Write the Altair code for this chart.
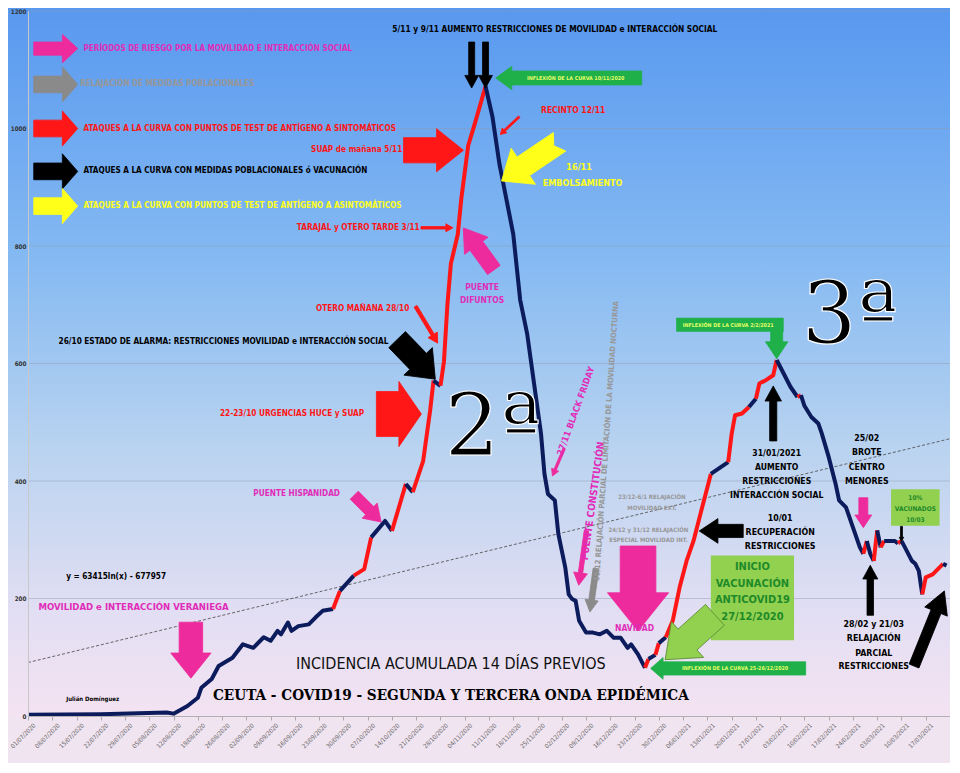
import altair as alt
import pandas as pd

# ---------------- data ----------------
dates = [
    "2020-07-01", "2020-07-22", "2020-08-10", "2020-08-12", "2020-08-16", "2020-08-19", "2020-08-20",
    "2020-08-23", "2020-08-25", "2020-08-29", "2020-09-01", "2020-09-04", "2020-09-07", "2020-09-09",
    "2020-09-11", "2020-09-12", "2020-09-14", "2020-09-15", "2020-09-17", "2020-09-20", "2020-09-22",
    "2020-09-24", "2020-09-27", "2020-09-29", "2020-10-03", "2020-10-06", "2020-10-08", "2020-10-12",
    "2020-10-14", "2020-10-18", "2020-10-20", "2020-10-23", "2020-10-25", "2020-10-26", "2020-10-28",
    "2020-10-29", "2020-10-30", "2020-10-31", "2020-11-02", "2020-11-03", "2020-11-05", "2020-11-07",
    "2020-11-10", "2020-11-12", "2020-11-14", "2020-11-15", "2020-11-18", "2020-11-20", "2020-11-22",
    "2020-11-24", "2020-11-26", "2020-11-27", "2020-11-28", "2020-11-30", "2020-12-01", "2020-12-03",
    "2020-12-04", "2020-12-05", "2020-12-06", "2020-12-07", "2020-12-09", "2020-12-11", "2020-12-13",
    "2020-12-15", "2020-12-17", "2020-12-19", "2020-12-21", "2020-12-22", "2020-12-24", "2020-12-26",
    "2020-12-27", "2020-12-29", "2020-12-30", "2021-01-01", "2021-01-03", "2021-01-05", "2021-01-07",
    "2021-01-09", "2021-01-11", "2021-01-13", "2021-01-14", "2021-01-19", "2021-01-20", "2021-01-21",
    "2021-01-23", "2021-01-25", "2021-01-27", "2021-01-28", "2021-01-30", "2021-02-01", "2021-02-02",
    "2021-02-04", "2021-02-06", "2021-02-08", "2021-02-09", "2021-02-10", "2021-02-12", "2021-02-14",
    "2021-02-15", "2021-02-17", "2021-02-19", "2021-02-20", "2021-02-22", "2021-02-24", "2021-02-26",
    "2021-02-27", "2021-02-28", "2021-03-01", "2021-03-02", "2021-03-03", "2021-03-04", "2021-03-05",
    "2021-03-06", "2021-03-08", "2021-03-09", "2021-03-10", "2021-03-11", "2021-03-13", "2021-03-14",
    "2021-03-15", "2021-03-16", "2021-03-17", "2021-03-19", "2021-03-21", "2021-03-22", "2021-03-23",
]
values = [
    2, 3, 6, 4, 17, 31, 48,
    63, 85, 99, 122, 116, 134, 128,
    145, 139, 159, 145, 153, 156, 168,
    179, 182, 213, 239, 250, 304, 332,
    315, 395, 381, 434, 519, 571, 562,
    603, 700, 770, 820, 880, 971, 1010,
    1072, 1020, 940, 910, 820, 708, 651,
    566, 481, 412, 378, 367, 310, 253,
    207, 199, 196, 162, 142, 142, 139,
    145, 133, 133, 116, 122, 105, 82,
    97, 104, 124, 134, 162, 219, 264,
    298, 344, 389, 412, 432, 480, 512,
    515, 526, 540, 566, 572, 580, 606,
    583, 560, 543, 546, 528, 509, 498,
    481, 441, 395, 367, 355, 321, 287,
    276, 298, 276, 264, 316, 287, 298,
    298, 298, 294, 298, 287, 264, 259,
    247, 207, 236, 241, 253, 259, 256,
]
# colour of the stretch that ends at each point (N = navy, R = red)
seg_codes = (
    ["N"] * 23 + ["R"] + ["N"] + ["R"] * 2 + ["N"] * 2 + ["R"] + ["N"] + ["R"] * 3 + ["N"]
    + ["R"] * 8 + ["N"] * 27 + ["R"] + ["N"] + ["R"] + ["N"] + ["R"] * 7 + ["N"] + ["R"] * 4
    + ["N"] + ["R"] * 4 + ["N"] * 3 + ["R"] + ["N"] * 11 + ["R"] + ["N"] * 2 + ["R"] + ["N"]
    + ["R"] + ["N"] * 3 + ["R"] + ["N"] * 5 + ["R"] * 4 + ["N"]
)

trend_dates = ["2020-07-01", "2021-03-24"]
trend_values = [91, 472]

grid_values = [200, 400, 600, 800, 1000, 1200]
y_ticks = [0, 200, 400, 600, 800, 1000, 1200]

tick_labels = [
    "01/07/2020", "08/07/2020", "15/07/2020", "22/07/2020", "29/07/2020", "05/08/2020", "12/08/2020",
    "19/08/2020", "26/08/2020", "02/09/2020", "09/09/2020", "16/09/2020", "23/09/2020", "30/09/2020",
    "07/10/2020", "14/10/2020", "21/10/2020", "28/10/2020", "04/11/2020", "11/11/2020", "18/11/2020",
    "25/11/2020", "02/12/2020", "09/12/2020", "16/12/2020", "23/12/2020", "30/12/2020", "06/01/2021",
    "13/01/2021", "20/01/2021", "27/01/2021", "03/02/2021", "10/02/2021", "17/02/2021", "24/02/2021",
    "03/03/2021", "10/03/2021", "17/03/2021",
]

NAVY = "#0b1b5c"
RED = "#ff1616"
MAG = "#ee2b9c"
MAGT = "#e02cb8"
GRAYT = "#979797"
GRAYA = "#8a8a8a"
YEL = "#ffff1a"
BLACK = "#000000"
GREEN = "#1fb04a"
LGREEN = "#92d050"
GREENT = "#1e8a28"
INFLT = "#e6ff66"

# annotations: (date, value, text, colour, font size)
left_texts = [
    ("2020-07-17", 1136, "PERÍODOS DE RIESGO POR LA MOVILIDAD E INTERACCIÓN SOCIAL", MAGT, 8.1),
    ("2020-07-16", 1075, "RELAJACIÓN DE MEDIDAS POBLACIONALES", GRAYT, 8.1),
    ("2020-07-17", 1000, "ATAQUES A LA CURVA CON PUNTOS DE  TEST DE ANTÍGENO A SINTOMÁTICOS", RED, 8.1),
    ("2020-07-17", 927, "ATAQUES A LA CURVA CON MEDIDAS POBLACIONALES ó VACUNACIÓN", BLACK, 8.1),
    ("2020-07-17", 868, "ATAQUES A LA CURVA CON PUNTOS DE  TEST DE ANTÍGENO A ASINTOMÁTICOS", YEL, 8.1),
    ("2020-11-26", 1031, "RECINTO 12/11", RED, 8.5),
    ("2020-07-12", 237, "y = 63415ln(x) - 677957", BLACK, 8.2),
    ("2020-07-04", 185, "MOVILIDAD e INTERACCIÓN VERANIEGA", MAGT, 9.5),
    ("2020-07-12", 29, "Julián Domínguez", BLACK, 6),
]
right_texts = [
    ("2020-10-17", 964, "SUAP de mañana 5/11", RED, 8.2),
    ("2020-10-22", 831, "TARAJAL y OTERO TARDE 3/11", RED, 8.2),
    ("2020-10-19", 692, "OTERO MAÑANA 28/10", RED, 8.2),
    ("2020-10-13", 636, "26/10  ESTADO DE ALARMA: RESTRICCIONES MOVILIDAD e INTERACCIÓN SOCIAL", BLACK, 8.2),
    ("2020-10-06", 514, "22-23/10 URGENCIAS HUCE y SUAP", RED, 8.2),
    ("2020-09-29", 378, "PUENTE HISPANIDAD", MAGT, 8.2),
]
center_texts = [
    ("2020-11-30", 1168, "5/11 y 9/11  AUMENTO RESTRICCIONES DE MOVILIDAD e INTERACCIÓN SOCIAL", BLACK, 8.3),
    ("2020-12-06", 1086, "INFLEXIÓN DE LA CURVA 10/11/2020", INFLT, 5.3),
    ("2020-12-07", 934, "16/11", YEL, 9),
    ("2020-12-08", 907, "EMBOLSAMIENTO", YEL, 9),
    ("2020-11-09", 731, "PUENTE", MAGT, 8.5),
    ("2020-11-09", 708, "DIFUNTOS", MAGT, 8.5),
    ("2020-12-28", 373, "23/12-6/1 RELAJACIÓN", GRAYT, 6),
    ("2020-12-28", 354, "MOVILIDAD EXT.", GRAYT, 6),
    ("2020-12-27", 317, "24/12 y 31/12 RELAJACIÓN", GRAYT, 6),
    ("2020-12-27", 300, "ESPECIAL MOVILIDAD INT.", GRAYT, 6),
    ("2020-12-23", 149, "NAVIDAD", MAGT, 8.5),
    ("2021-01-26", 253, "INICIO", GREENT, 11),
    ("2021-01-26", 224, "VACUNACIÓN", GREENT, 11),
    ("2021-01-26", 197, "ANTICOVID19", GREENT, 11),
    ("2021-01-26", 168, "27/12/2020", GREENT, 11),
    ("2021-01-21", 81, "INFLEXIÓN DE LA CURVA 25-26/12/2020", INFLT, 5.3),
    ("2021-01-19", 666, "INFLEXIÓN DE LA CURVA 2/2/2021", INFLT, 5.3),
    ("2021-02-02", 447, "31/01/2021", BLACK, 8.6),
    ("2021-02-02", 424, "AUMENTO", BLACK, 8.6),
    ("2021-02-02", 400, "RESTRICCIONES", BLACK, 8.6),
    ("2021-02-02", 376, "INTERACCIÓN SOCIAL", BLACK, 8.6),
    ("2021-02-03", 337, "10/01", BLACK, 8.8),
    ("2021-02-03", 314, "RECUPERACIÓN", BLACK, 8.8),
    ("2021-02-03", 290, "RESTRICCIONES", BLACK, 8.8),
    ("2021-02-28", 473, "25/02", BLACK, 8.8),
    ("2021-02-28", 449, "BROTE", BLACK, 8.8),
    ("2021-02-28", 424, "CENTRO", BLACK, 8.8),
    ("2021-02-28", 400, "MENORES", BLACK, 8.8),
    ("2021-03-14", 371, "10%", GREENT, 6.5),
    ("2021-03-14", 353, "VACUNADOS", GREENT, 6.5),
    ("2021-03-14", 334, "10/03", GREENT, 6.5),
    ("2021-03-02", 156, "28/02 y 21/03", BLACK, 8.8),
    ("2021-03-02", 132, "RELAJACIÓN", BLACK, 8.8),
    ("2021-03-02", 108, "PARCIAL", BLACK, 8.8),
    ("2021-03-02", 85, "RESTRICCIONES", BLACK, 8.8),
]
rotated_texts = [
    ("2020-12-06", 519, "27/11 BLACK FRIDAY", MAGT, 9, 290),
    ("2020-12-11", 366, "PUENTE CONSTITUCIÓN", MAGT, 10, 278),
    ("2020-12-15", 468, "10/12 RELAJACIÓN PARCIAL DE  LIMITACIÓN DE LA  MOVILIDAD NOCTURNA", GRAYT, 7.6, 274),
]
title_texts = [
    ("2020-10-31", 88, "INCIDENCIA ACUMULADA 14 DÍAS PREVIOS", 16),
    ("2020-10-31", 36, "CEUTA - COVID19 - SEGUNDA  Y TERCERA ONDA EPIDÉMICA", 15.2),
]
wave_texts = [
    ("2020-11-12", 488, "2ª"),
    ("2021-02-23", 680, "3ª"),
]

ARROW_PATHS = {
    "legend": "M -1 -0.38 L 0.3 -0.38 L 0.3 -0.8 L 1 0 L 0.3 0.8 L 0.3 0.38 L -1 0.38 Z",
    "legend_thin": "M -1 -0.3 L 0.3 -0.3 L 0.3 -0.65 L 1 0 L 0.3 0.65 L 0.3 0.3 L -1 0.3 Z",
    "big": "M -1 -0.42 L 0.1 -0.42 L 0.1 -0.72 L 1 0 L 0.1 0.72 L 0.1 0.42 L -1 0.42 Z",
    "mid": "M -1 -0.3 L 0.15 -0.3 L 0.15 -0.56 L 1 0 L 0.15 0.56 L 0.15 0.3 L -1 0.3 Z",
    "thin": "M -1 -0.08 L 0.55 -0.08 L 0.55 -0.25 L 1 0 L 0.55 0.25 L 0.55 0.08 L -1 0.08 Z",
    "stick": "M -1 -0.13 L 0.45 -0.13 L 0.45 -0.3 L 1 0 L 0.45 0.3 L 0.45 0.13 L -1 0.13 Z",
    "fat": "M -1 -1 L 0 -1 L 0 -1.45 L 1 0 L 0 1.45 L 0 1 L -1 1 Z",
    "notch": "M -1 -0.32 L 0.25 -0.32 L 0.25 -0.62 L 1 0 L 0.25 0.62 L 0.25 0.32 L -1 0.32 L -0.8 0 Z",
    "long1": "M -1 -0.095 L 0.78 -0.095 L 0.78 -0.16 L 1 0 L 0.78 0.16 L 0.78 0.095 L -1 0.095 Z",
    "long2": "M -1 -0.085 L 0.84 -0.085 L 0.84 -0.14 L 1 0 L 0.84 0.14 L 0.84 0.085 L -1 0.085 Z",
}
# (date, value, shape, length px, angle, fill, stroke)
arrows = [
    ("2020-07-09", 1136, "legend_thin", 44, 0, MAG, MAG),
    ("2020-07-09", 1075, "legend", 44, 0, GRAYA, GRAYA),
    ("2020-07-09", 1000, "legend", 44, 0, RED, RED),
    ("2020-07-09", 927, "legend", 44, 0, BLACK, BLACK),
    ("2020-07-09", 868, "legend", 44, 0, YEL, YEL),
    ("2020-11-06", 1108, "stick", 46, 90, BLACK, BLACK),
    ("2020-11-10", 1108, "stick", 46, 90, BLACK, BLACK),
    ("2020-12-04", 1086, "long1", 146, 180, GREEN, GREEN),
    ("2020-11-17", 1005, "thin", 26, 137, RED, RED),
    ("2020-11-23", 944, "notch", 70, 146, YEL, YEL),
    ("2020-10-26", 963, "big", 60, 0, RED, RED),
    ("2020-10-27", 831, "thin", 32, 0, RED, RED),
    ("2020-11-08", 795, "mid", 52, 234, MAG, MAG),
    ("2020-10-24", 666, "thin", 43, 59, RED, RED),
    ("2020-10-21", 607, "big", 55, 46, BLACK, BLACK),
    ("2020-10-16", 514, "fat", 45, 0, RED, RED),
    ("2020-10-07", 353, "mid", 38, 45, MAG, MAG),
    ("2020-08-17", 112, "big", 56, 90, MAG, MAG),
    ("2020-12-01", 432, "thin", 30, 113, MAG, MAG),
    ("2020-12-08", 269, "thin", 55, 98, MAG, MAG),
    ("2020-12-11", 214, "stick", 44, 98, GRAYA, GRAYA),
    ("2020-12-24", 217, "big", 85, 90, MAG, MAG),
    ("2021-01-08", 134, "big", 67, 138, LGREEN, "#5a8a30"),
    ("2021-01-19", 81, "long2", 155, 180, GREEN, GREEN),
    ("2021-02-02", 642, "mid", 40, 90, GREEN, GREEN),
    ("2021-02-01", 515, "stick", 55, 270, BLACK, BLACK),
    ("2021-01-17", 315, "mid", 44, 180, BLACK, BLACK),
    ("2021-02-27", 346, "mid", 30, 90, MAG, MAG),
    ("2021-03-10", 310, "stick", 15, 90, BLACK, BLACK),
    ("2021-03-01", 214, "stick", 50, 270, BLACK, BLACK),
    ("2021-03-18", 149, "stick", 81, 292, BLACK, BLACK),
]
# green boxes: (date start, date end, value low, value high, colour)
boxes = [
    ("2021-01-14", "2021-02-07", 129, 273, LGREEN),
    ("2021-03-07", "2021-03-21", 324, 386, LGREEN),
    ("2021-01-04", "2021-02-04", 654, 678, GREEN),
]

# ---------------- build tables ----------------
COL = {"N": NAVY, "R": RED}
rows = []
sid, prev = 0, None
for i in range(1, len(dates)):
    c = seg_codes[i]
    if c != prev:
        sid += 1
        rows.append(dict(date=dates[i - 1], value=values[i - 1], seg=sid, c=COL[c]))
        prev = c
    rows.append(dict(date=dates[i], value=values[i], seg=sid, c=COL[c]))
line_df = pd.DataFrame(rows)

trend_df = pd.DataFrame({"date": trend_dates, "value": trend_values})
grid_df = pd.DataFrame({"value": grid_values})


def tdf(items, cols):
    return pd.DataFrame([dict(zip(cols, it)) for it in items])


left_df = tdf(left_texts, ["date", "value", "text", "color", "size"])
right_df = tdf(right_texts, ["date", "value", "text", "color", "size"])
center_df = tdf(center_texts, ["date", "value", "text", "color", "size"])
rot_df = tdf(rotated_texts, ["date", "value", "text", "color", "size", "angle"])
title_df = tdf(title_texts, ["date", "value", "text", "size"])
wave_df = tdf(wave_texts, ["date", "value", "text"])
arrow_df = tdf(arrows, ["date", "value", "shape", "len", "angle", "fill", "stroke"])
arrow_df["shape"] = arrow_df["shape"].map(ARROW_PATHS)
arrow_df["size"] = arrow_df["len"] ** 2
box_df = tdf(boxes, ["date", "date2", "value", "value2", "fill"])


def dt(s):
    y, m, d = (int(p) for p in s.split("-"))
    return alt.DateTime(year=y, month=m, date=d, utc=True)


def dt_label(s):
    d, m, y = (int(p) for p in s.split("/"))
    return alt.DateTime(year=y, month=m, date=d, utc=True)


W, H = 922, 705
FONT = "Liberation Sans Narrow, DejaVu Sans Condensed, Roboto, sans-serif"

xscale = alt.Scale(type="utc", domain=[dt("2020-07-01"), dt("2021-03-24")])
yscale = alt.Scale(domain=[0, 1200], nice=False)
XAX = alt.Axis(
    values=[dt_label(s) for s in tick_labels], format="%d/%m/%Y",
    labelAngle=315, labelFontSize=6.2, labelColor="#666666", labelFont=FONT,
    labelOverlap=False, labelPadding=2, labelOffset=4, grid=False, tickColor="#aaaaaa", tickSize=4,
    domainColor="#b0b0b0", title=None, zindex=1,
)
YAX = alt.Axis(
    values=y_ticks, format="d", grid=False, labelFontSize=6.3, labelColor="#333333", labelFont=FONT,
    labelFontWeight="bold", ticks=False, domainColor="#c8c8c8", labelPadding=2, title=None,
    zindex=1,
)
X = alt.X("date:T", scale=xscale, axis=XAX, title=None)
Y = alt.Y("value:Q", scale=yscale, axis=YAX, title=None)

bg_df = pd.DataFrame({"a": [0]})
gradient = alt.LinearGradient(
    gradient="linear",
    stops=[
        alt.GradientStop(offset=0, color="#5898ef"),
        alt.GradientStop(offset=0.35, color="#84b9f2"),
        alt.GradientStop(offset=0.62, color="#b9d3f0"),
        alt.GradientStop(offset=0.85, color="#e2def3"),
        alt.GradientStop(offset=1, color="#f4e3f2"),
    ],
    x1=0, x2=0, y1=0, y2=1,
)
bg = alt.Chart(bg_df).mark_rect(color=gradient).encode(
    x=alt.value(-20), x2=alt.value(W), y=alt.value(-3), y2=alt.value(H + 2)
)

grid = alt.Chart(grid_df).mark_rule(color="#8f9bb0", strokeWidth=0.8, opacity=0.6).encode(y=Y)

trend = alt.Chart(trend_df).mark_line(color="#555555", strokeWidth=0.9, strokeDash=[3, 2]).encode(x=X, y=Y)

main = alt.Chart(line_df).mark_line(strokeWidth=4, strokeJoin="round").encode(
    x=X, y=Y, detail="seg:N", color=alt.Color("c:N", scale=None),
)

box_layer = alt.Chart(box_df).mark_rect().encode(
    x=X, x2="date2:T", y=Y, y2="value2:Q",
    fill=alt.Fill("fill:N", scale=None),
)

arrow_layer = alt.Chart(arrow_df).mark_point(filled=True, opacity=1, strokeWidth=0.8).encode(
    x=X, y=Y,
    shape=alt.Shape("shape:N", scale=None),
    size=alt.Size("size:Q", scale=None),
    angle=alt.Angle("angle:Q", scale=None),
    fill=alt.Fill("fill:N", scale=None),
    stroke=alt.Stroke("stroke:N", scale=None),
)


def text_layer(df, align, weight="bold", font=FONT, angle=False):
    enc = dict(
        x=X, y=Y, text="text:N",
        color=alt.Color("color:N", scale=None),
        size=alt.Size("size:Q", scale=None),
    )
    if angle:
        enc["angle"] = alt.Angle("angle:Q", scale=None)
    return alt.Chart(df).mark_text(align=align, baseline="middle", font=font, fontWeight=weight).encode(**enc)


left_layer = text_layer(left_df, "left")
right_layer = text_layer(right_df, "right")
center_layer = text_layer(center_df, "center")
rot_layer = text_layer(rot_df, "center", angle=True)

title1 = alt.Chart(title_df.iloc[[0]]).mark_text(
    align="center", baseline="middle", font="DejaVu Sans Condensed, Liberation Sans Narrow, sans-serif",
    fontWeight="normal", color="#111111"
).encode(x=X, y=Y, text="text:N", size=alt.Size("size:Q", scale=None))
title2 = alt.Chart(title_df.iloc[[1]]).mark_text(
    align="center", baseline="middle", font="DejaVu Serif Condensed, DejaVu Serif, serif",
    fontWeight="bold", color="#000000"
).encode(x=X, y=Y, text="text:N", size=alt.Size("size:Q", scale=None))

wave = alt.Chart(wave_df).mark_text(
    align="center", baseline="middle", font="DejaVu Serif", fontSize=86, color="#000000",
    stroke="#ffffff", strokeWidth=1.2
).encode(x=X, y=Y, text="text:N")

chart = alt.layer(
    bg, grid, trend, main, box_layer, arrow_layer,
    left_layer, right_layer, center_layer, rot_layer, title1, title2, wave,
).properties(
    width=W, height=H, autosize="none",
    padding={"left": 20, "top": 3, "right": 0, "bottom": 47},
    background="#f1e4f1",
).configure_view(strokeWidth=0)

chart.save("out.html", embed_options={"renderer": "svg", "actions": False})
